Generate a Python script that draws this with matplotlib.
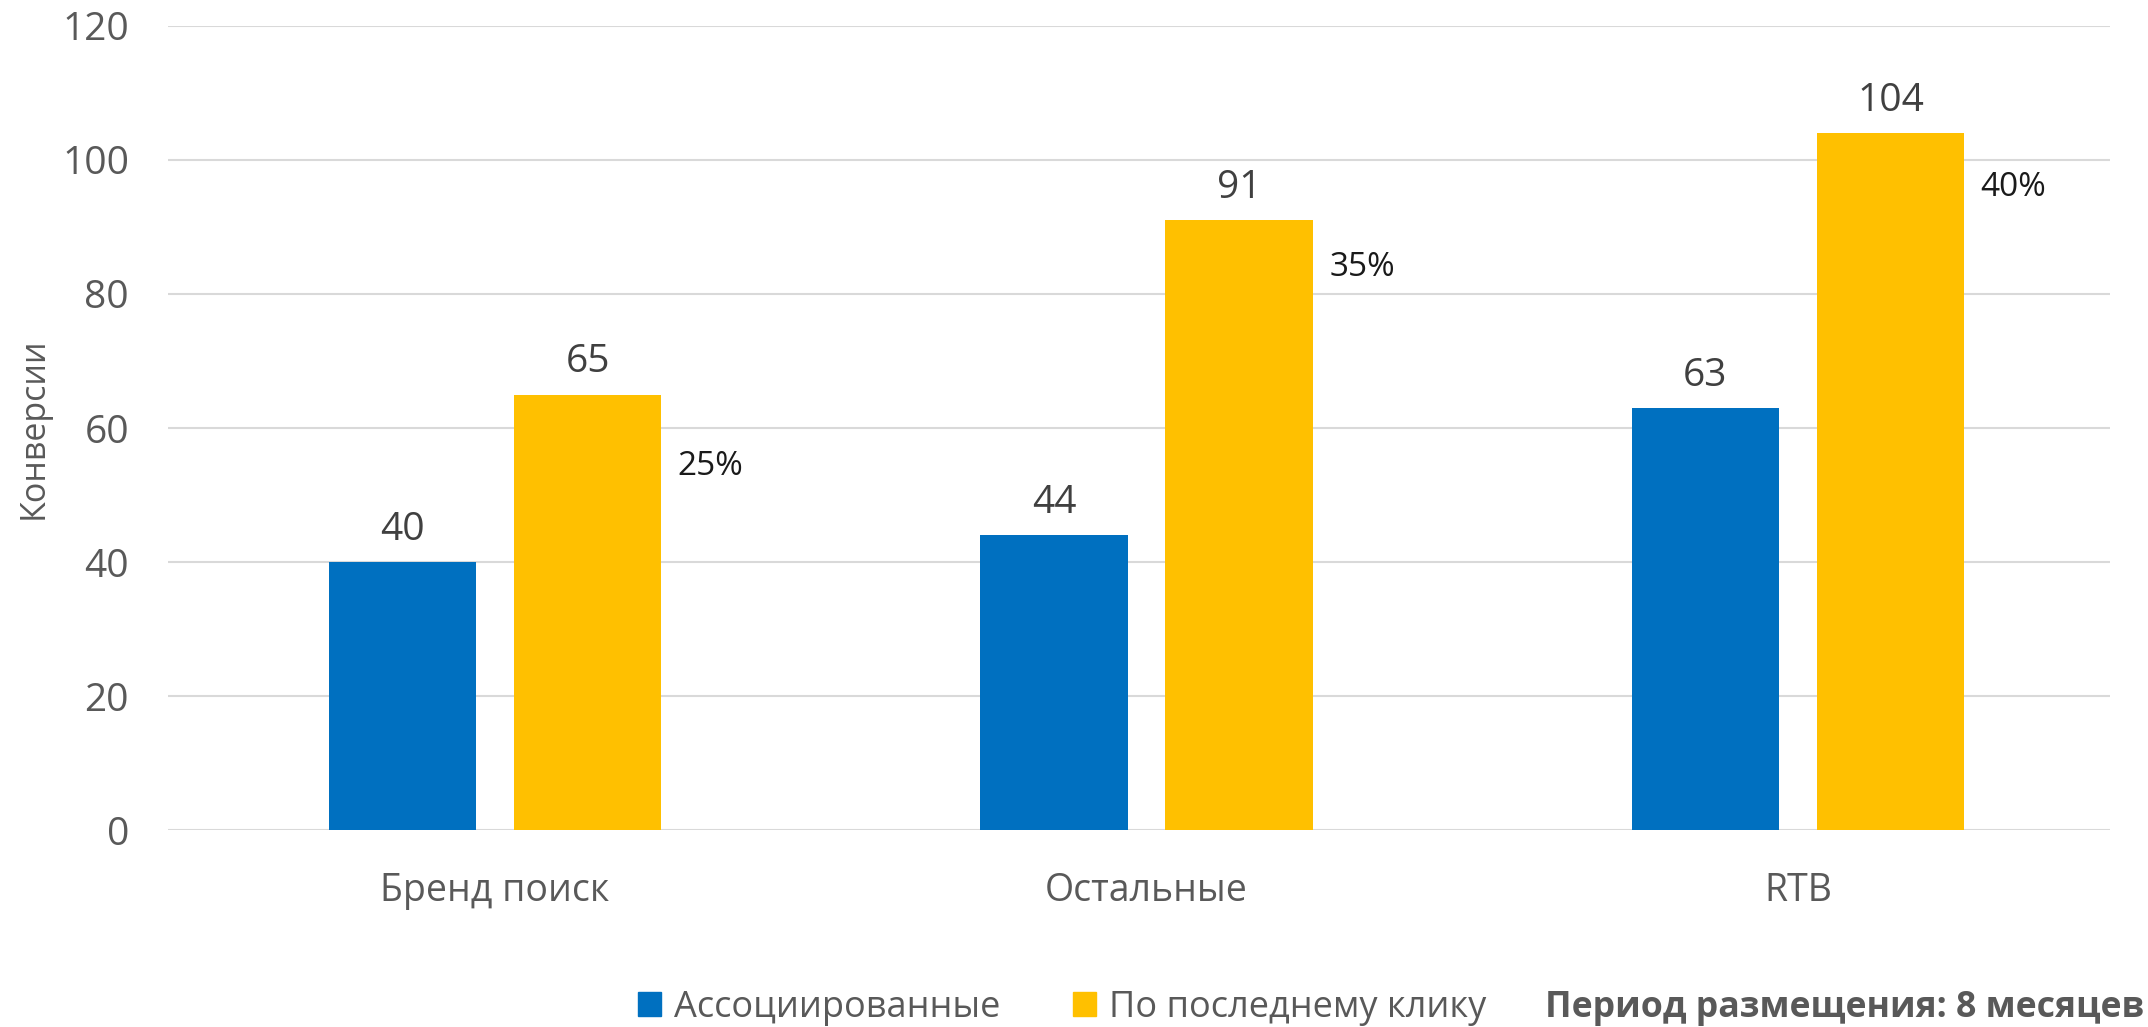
import matplotlib
matplotlib.use("Agg")
import matplotlib.pyplot as plt
import matplotlib.patches as mpatches
import numpy as np

plt.rcParams["font.family"] = ["Open Sans", "DejaVu Sans"]

# ── данные ────────────────────────────────────────────────────────────────
categories = ["Бренд поиск", "Остальные", "RTB"]
associated = [40, 44, 63]
last_click = [65, 91, 104]
pct_labels = ["25%", "35%", "40%"]
y_ticks = [0, 20, 40, 60, 80, 100, 120]

BLUE = "#0070C0"
YELLOW = "#FFC000"
GREY = "#595959"

# смещение подписей процентов от вершины столбца (pt)
pct_dy = [-52, -34, -39]

fig = plt.figure(figsize=(21.48, 10.27), dpi=100)
ax = fig.add_axes([0.0782, 0.1918, 0.9041, 0.7829])

x = np.arange(len(categories))
w = 0.226
off = 0.142

b1 = ax.bar(x - off, associated, w, color=BLUE, zorder=2, label="Ассоциированные")
b2 = ax.bar(x + off, last_click, w, color=YELLOW, zorder=2, label="По последнему клику")

for rect, v in zip(list(b1) + list(b2), associated + last_click):
    ax.annotate(str(v), xy=(rect.get_x() + rect.get_width() / 2, v),
                xytext=(0, 16), textcoords="offset points",
                ha="center", va="baseline", fontsize=28, color="#404040")

for rect, v, lab, dy in zip(b2, last_click, pct_labels, pct_dy):
    ax.annotate(lab, xy=(rect.get_x() + rect.get_width(), v),
                xytext=(12, dy), textcoords="offset points",
                ha="left", va="center", fontsize=24, color="#1a1a1a")

# ── оси ───────────────────────────────────────────────────────────────────
ax.set_xlim(-0.502, 2.479)
ax.set_ylim(0, 120)
ax.set_yticks(y_ticks)
ax.set_xticks(x)
ax.set_xticklabels(categories)
ax.tick_params(axis="y", length=0, pad=28, labelsize=28, labelcolor=GREY)
ax.tick_params(axis="x", length=0, pad=30, labelsize=27, labelcolor=GREY)
ax.yaxis.grid(True, color="#d9d9d9", linewidth=1.5, zorder=0)
ax.set_axisbelow(True)
for s in ax.spines.values():
    s.set_visible(False)
ax.set_ylabel("Конверсии", fontsize=24.5, color=GREY, labelpad=8)

# ── легенда ───────────────────────────────────────────────────────────────
fig.legend(handles=[mpatches.Patch(color=BLUE, label="Ассоциированные"),
                    mpatches.Patch(color=YELLOW, label="По последнему клику")],
           loc="center left", bbox_to_anchor=(638 / 2148, 1 - 1008 / 1027),
           ncol=2, frameon=False, fontsize=26, labelcolor=GREY,
           handlelength=0.64, handleheight=0.64, handletextpad=0.36,
           columnspacing=2.0, borderpad=0, borderaxespad=0)
fig.text(1545 / 2148, 1 - 1008 / 1027, "Период размещения: 8 месяцев",
         fontsize=25.7, fontweight="bold", color=GREY, ha="left", va="center")

fig.savefig("out.png", dpi=100)
